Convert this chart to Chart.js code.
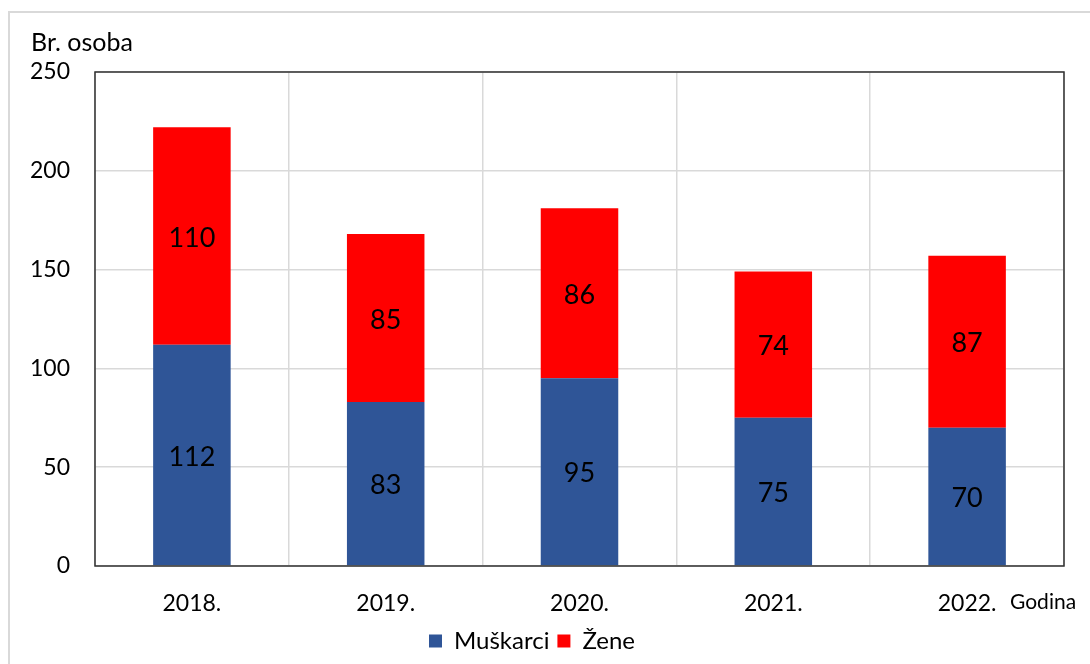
<!DOCTYPE html>
<html>
<head>
<meta charset="utf-8">
<script src="https://cdn.jsdelivr.net/npm/chart.js@4"></script>
<style>
  html, body { margin: 0; padding: 0; background: #fff; }
  #wrap { width: 1090px; height: 664px; position: relative; }
</style>
</head>
<body>
<div id="wrap"><canvas id="barChart" width="1090" height="664"></canvas></div>
<script>
// podaci
var years = ["2018.", "2019.", "2020.", "2021.", "2022."];
var muskarci = [112, 83, 95, 75, 70];
var zene = [110, 85, 86, 74, 87];
var yTicks = [0, 50, 100, 150, 200, 250];

var FONT = "Lato, 'Open Sans', sans-serif";

// okvir, naslovi osi i vrijednosti u stupcima
var extras = {
    id: 'extras',
    beforeDraw: function (chart) {
        var ctx = chart.ctx;
        ctx.save();
        ctx.strokeStyle = '#d9d9d9';
        ctx.lineWidth = 2;
        ctx.strokeRect(9, 12, 1200, 800);
        ctx.restore();
    },
    afterDatasetsDraw: function (chart) {
        var ctx = chart.ctx;
        ctx.save();
        ctx.font = "27px " + FONT;
        ctx.fillStyle = '#000';
        ctx.textAlign = 'center';
        ctx.textBaseline = 'middle';
        chart.data.datasets.forEach(function (ds, i) {
            var meta = chart.getDatasetMeta(i);
            meta.data.forEach(function (bar, j) {
                var mid = (bar.y + bar.base) / 2;
                ctx.fillText(ds.data[j], bar.x, mid + 2);
            });
        });
        ctx.restore();
    },
    afterDraw: function (chart) {
        var ctx = chart.ctx;
        var a = chart.chartArea;
        ctx.save();
        ctx.strokeStyle = '#303030';
        ctx.lineWidth = 1.5;
        ctx.strokeRect(a.left, a.top, a.right - a.left, a.bottom - a.top);
        ctx.fillStyle = '#000';
        ctx.font = "25px " + FONT;
        ctx.textBaseline = 'middle';
        ctx.textAlign = 'left';
        ctx.fillText('Br. osoba', 31, 43);
        ctx.font = "21px " + FONT;
        ctx.fillText('Godina', 1010, 602);
        ctx.restore();
    }
};

var ctxB = document.getElementById("barChart").getContext('2d');
var myBarChart = new Chart(ctxB, {
    type: 'bar',
    plugins: [extras],
    data: {
        labels: years,
        datasets: [{
            label: 'Muškarci',
            data: muskarci,
            backgroundColor: '#2F5597',
            barPercentage: 0.4,
            categoryPercentage: 1.0
        }, {
            label: 'Žene',
            data: zene,
            backgroundColor: '#FF0000',
            barPercentage: 0.4,
            categoryPercentage: 1.0
        }]
    },
    options: {
        responsive: false,
        animation: false,
        layout: {
            padding: { top: 72, right: 26, bottom: 1, left: 0 }
        },
        plugins: {
            tooltip: { enabled: false },
            legend: {
                position: 'bottom',
                labels: {
                    boxWidth: 13,
                    boxHeight: 13,
                    padding: 8,
                    color: '#000',
                    font: { family: FONT, size: 24 }
                }
            }
        },
        scales: {
            x: {
                stacked: true,
                afterFit: function (s) { s.height = 55; },
                grid: { color: '#d9d9d9', lineWidth: 1.5, drawTicks: false },
                border: { display: false },
                ticks: {
                    color: '#000',
                    padding: 24,
                    font: { family: FONT, size: 23 }
                }
            },
            y: {
                stacked: true,
                min: 0,
                max: 250,
                afterFit: function (s) { s.width = 95; },
                afterBuildTicks: function (s) {
                    s.ticks = yTicks.map(function (v) { return { value: v }; });
                },
                grid: { color: '#d9d9d9', lineWidth: 1.5, drawTicks: false },
                border: { display: false },
                ticks: {
                    color: '#000',
                    padding: 25,
                    font: { family: FONT, size: 23 }
                }
            }
        }
    }
});
</script>
</body>
</html>
